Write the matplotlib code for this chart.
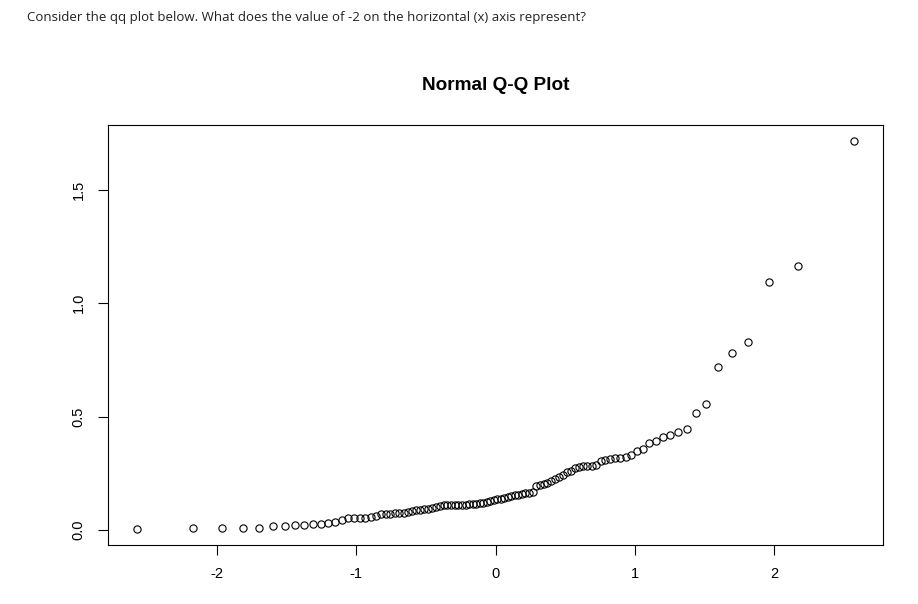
import matplotlib
matplotlib.use("Agg")
import matplotlib.pyplot as plt
from statistics import NormalDist

sample = [
    0.003, 0.010, 0.010, 0.010, 0.010, 0.016, 0.016, 0.021, 0.023, 0.025,
    0.028, 0.031, 0.035, 0.046, 0.053, 0.053, 0.053, 0.053, 0.058, 0.061,
    0.069, 0.070, 0.072, 0.075, 0.075, 0.077, 0.080, 0.083, 0.087, 0.090,
    0.092, 0.094, 0.097, 0.102, 0.106, 0.109, 0.109, 0.109, 0.111, 0.112,
    0.112, 0.112, 0.114, 0.115, 0.116, 0.119, 0.121, 0.124, 0.128, 0.133,
    0.136, 0.139, 0.142, 0.146, 0.150, 0.154, 0.156, 0.161, 0.165, 0.165,
    0.168, 0.193, 0.198, 0.205, 0.209, 0.215, 0.227, 0.235, 0.242, 0.257,
    0.260, 0.274, 0.279, 0.282, 0.282, 0.282, 0.289, 0.304, 0.308, 0.315,
    0.319, 0.319, 0.323, 0.333, 0.348, 0.357, 0.384, 0.392, 0.412, 0.419,
    0.434, 0.446, 0.518, 0.558, 0.721, 0.779, 0.827, 1.093, 1.164, 1.717,
]
x_ticks = [-2, -1, 0, 1, 2]
y_ticks = [0.0, 0.5, 1.0, 1.5]
question = "Consider the qq plot below. What does the value of -2 on the horizontal (x) axis represent?"

# theoretical quantiles, same as R's qqnorm (ppoints with a = 0.5)
n = len(sample)
nd = NormalDist()
theo = [nd.inv_cdf((i - 0.5) / n) for i in range(1, n + 1)]

fig = plt.figure(figsize=(9.18, 6.04), dpi=100)
ax = fig.add_axes([108 / 918, 1 - 545 / 604, 775 / 918, 420 / 604])

ax.plot(theo, sample, 'o', markersize=5.2, markerfacecolor='none',
        markeredgecolor='black', markeredgewidth=0.8)
ax.margins(x=0.04, y=0.04)

ax.set_xticks(x_ticks)
ax.set_xticklabels([str(t) for t in x_ticks], family='Liberation Sans', fontsize=10.5)
ax.set_yticks(y_ticks)
ax.set_yticklabels([f"{t:.1f}" for t in y_ticks], family='Liberation Sans',
                   fontsize=10.5, rotation=90, va='center')
ax.tick_params(direction='out', length=7, width=0.8)
ax.tick_params(axis='x', pad=9)
ax.tick_params(axis='y', pad=9)
for s in ax.spines.values():
    s.set_linewidth(0.8)

fig.text(495.5 / 918, 1 - 86 / 604, "Normal Q-Q Plot", ha='center', va='center',
         family='Liberation Sans', fontweight='bold', fontsize=13.7)
fig.text(27 / 918, 1 - 18 / 604, question, ha='left', va='center',
         family='Open Sans', fontsize=9.5, color='#222222')

fig.savefig("out.png", dpi=100)
